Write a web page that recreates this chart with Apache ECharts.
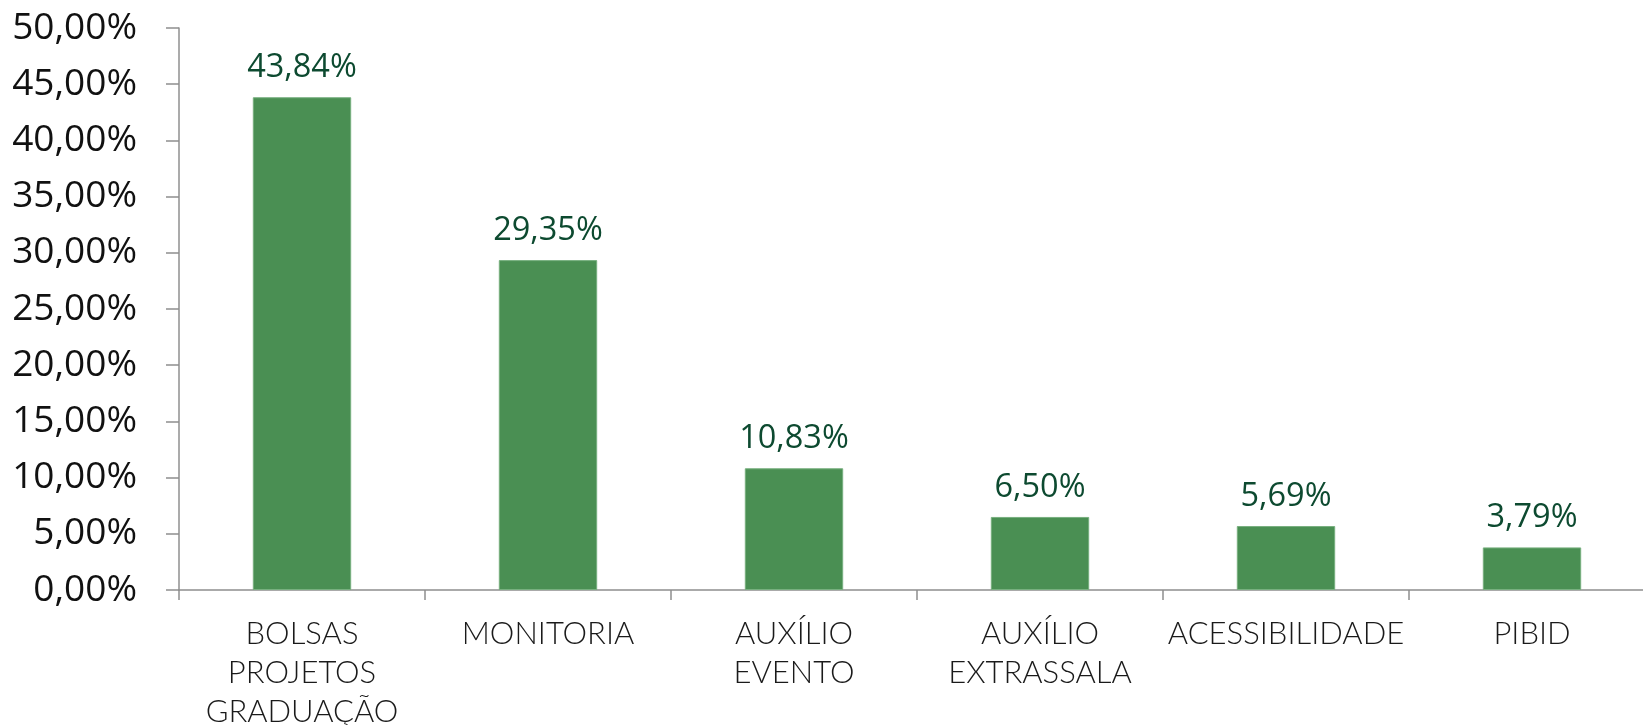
<!DOCTYPE html>
<html>
<head>
<meta charset="utf-8">
<script src="https://cdn.jsdelivr.net/npm/echarts@6/dist/echarts.min.js"></script>
<style>html,body{margin:0;padding:0;background:#fff}#c{width:1643px;height:725px}</style>
</head>
<body>
<div id="c"></div>
<script>
const categories = ['BOLSAS\nPROJETOS\nGRADUAÇÃO', 'MONITORIA', 'AUXÍLIO\nEVENTO', 'AUXÍLIO\nEXTRASSALA', 'ACESSIBILIDADE', 'PIBID'];
const values = [43.84, 29.35, 10.83, 6.50, 5.69, 3.79];
const yMin = 0, yMax = 50, yStep = 5;

const fmt = v => v.toFixed(2).replace('.', ',') + '%';
const chart = echarts.init(document.getElementById('c'));
chart.setOption({
  animation: false,
  grid: { left: 179, width: 1476, top: 28, bottom: 135, containLabel: false, outerBoundsMode: 'none' },
  xAxis: {
    type: 'category',
    data: categories,
    axisLine: { lineStyle: { color: '#8f8f8f', width: 1.5 } },
    axisTick: { show: true, length: 10, lineStyle: { color: '#8f8f8f', width: 1.5 } },
    axisLabel: { color: '#1a1a1a', fontFamily: 'Lato', fontWeight: 300, fontSize: 31, lineHeight: 39, margin: 24, interval: 0 }
  },
  yAxis: {
    type: 'value', min: yMin, max: yMax, interval: yStep,
    splitLine: { show: false },
    axisLine: { show: true, lineStyle: { color: '#8f8f8f', width: 1.5 } },
    axisTick: { show: true, length: 13, lineStyle: { color: '#8f8f8f', width: 1.5 } },
    axisLabel: { color: '#111', fontFamily: 'Open Sans', fontSize: 37, margin: 42, formatter: fmt }
  },
  series: [{
    type: 'bar',
    data: values,
    barWidth: '40%',
    itemStyle: { color: '#4a8f53', borderColor: '#78b07f', borderWidth: 1 },
    label: { show: true, position: 'top', distance: 13, color: '#0d4a30', fontFamily: 'Open Sans', fontSize: 32.5, formatter: p => fmt(p.value) }
  }]
});
</script>
</body>
</html>
